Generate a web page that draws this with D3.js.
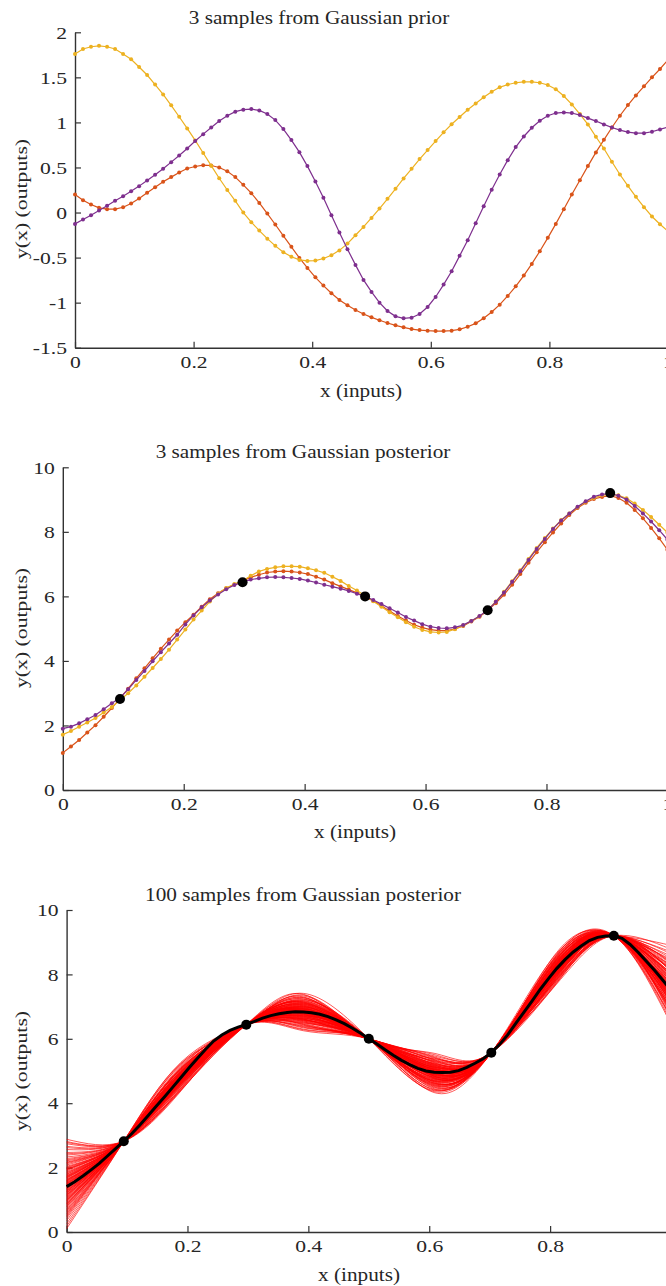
<!DOCTYPE html>
<html><head><meta charset="utf-8">
<script src="https://cdn.jsdelivr.net/npm/d3@7"></script>
<style>body{margin:0;background:#fff}svg{display:block}</style>
</head><body>
<svg id="chart" width="666" height="1286"></svg>
<script>
// ---------- data ----------
const xInputs = [0,0.0135,0.0270,0.0405,0.0541,0.0676,0.0811,0.0946,0.1081,0.1216,
0.1351,0.1486,0.1622,0.1757,0.1892,0.2027,0.2162,0.2297,0.2432,0.2568,
0.2703,0.2838,0.2973,0.3108,0.3243,0.3378,0.3514,0.3649,0.3784,0.3919,
0.4054,0.4189,0.4324,0.4459,0.4595,0.4730,0.4865,0.5,0.5135,0.5270,
0.5405,0.5541,0.5676,0.5811,0.5946,0.6081,0.6216,0.6351,0.6486,0.6622,
0.6757,0.6892,0.7027,0.7162,0.7297,0.7432,0.7568,0.7703,0.7838,0.7973,
0.8108,0.8243,0.8378,0.8514,0.8649,0.8784,0.8919,0.9054,0.9189,0.9324,
0.9459,0.9595,0.9730,0.9865,1];

const priorRed = [0.20,0.137,0.089,0.052,0.037,0.037,0.059,0.10,0.156,0.219,
0.281,0.341,0.393,0.444,0.489,0.511,0.526,0.522,0.50,0.459,
0.393,0.307,0.215,0.107,-0.011,-0.133,-0.259,-0.381,-0.504,-0.615,
-0.719,-0.811,-0.896,-0.97,-1.03,-1.081,-1.126,-1.163,-1.196,-1.226,
-1.252,-1.274,-1.293,-1.304,-1.311,-1.315,-1.315,-1.311,-1.296,-1.267,
-1.23,-1.174,-1.104,-1.022,-0.926,-0.819,-0.70,-0.57,-0.43,-0.281,
-0.126,0.037,0.20,0.359,0.515,0.667,0.807,0.944,1.074,1.193,
1.30,1.40,1.50,1.593,1.693];
const priorYellow = [1.76,1.815,1.84,1.85,1.84,1.815,1.76,1.70,1.615,1.526,
1.42,1.31,1.19,1.063,0.933,0.80,0.66,0.52,0.38,0.25,
0.13,0.0,-0.107,-0.20,-0.29,-0.37,-0.44,-0.49,-0.526,-0.537,
-0.533,-0.51,-0.474,-0.42,-0.345,-0.252,-0.16,-0.06,0.044,0.152,
0.263,0.378,0.485,0.593,0.693,0.793,0.89,0.98,1.06,1.14,
1.21,1.28,1.34,1.39,1.42,1.44,1.45,1.45,1.44,1.415,
1.367,1.293,1.20,1.093,0.978,0.841,0.711,0.563,0.422,0.296,
0.174,0.059,-0.044,-0.13,-0.207];
const priorPurple = [-0.126,-0.078,-0.03,0.022,0.074,0.13,0.181,0.237,0.293,0.356,
0.419,0.485,0.559,0.633,0.711,0.793,0.87,0.944,1.015,1.074,
1.119,1.141,1.148,1.133,1.093,1.026,0.926,0.804,0.67,0.515,
0.344,0.163,-0.03,-0.222,-0.407,-0.581,-0.748,-0.881,-1.0,-1.093,
-1.152,-1.174,-1.167,-1.126,-1.048,-0.937,-0.80,-0.652,-0.481,-0.307,
-0.119,0.07,0.252,0.422,0.581,0.726,0.844,0.941,1.019,1.074,
1.104,1.111,1.104,1.081,1.048,1.015,0.978,0.944,0.915,0.893,
0.881,0.881,0.896,0.922,0.948];

const postRed = [1.15,1.35,1.55,1.78,2.01,2.27,2.54,2.84,3.14,3.46,
3.77,4.08,4.38,4.66,4.94,5.20,5.43,5.68,5.91,6.10,
6.25,6.37,6.48,6.59,6.67,6.74,6.77,6.78,6.77,6.74,
6.69,6.61,6.52,6.41,6.31,6.21,6.11,5.99,5.86,5.71,
5.55,5.39,5.25,5.12,5.03,4.97,4.94,4.94,4.99,5.08,
5.22,5.37,5.56,5.79,6.05,6.36,6.69,7.04,7.37,7.68,
7.98,8.26,8.52,8.74,8.90,9.02,9.08,9.12,9.05,8.90,
8.68,8.42,8.12,7.80,7.45];
const postYellow = [1.715,1.83,1.96,2.09,2.23,2.40,2.57,2.79,3.0,3.24,
3.51,3.78,4.06,4.35,4.66,4.97,5.28,5.56,5.84,6.08,
6.26,6.38,6.48,6.64,6.77,6.85,6.90,6.93,6.93,6.92,
6.87,6.81,6.73,6.61,6.48,6.32,6.18,6.02,5.85,5.68,
5.51,5.35,5.20,5.06,4.96,4.90,4.88,4.90,4.98,5.10,
5.24,5.38,5.58,5.84,6.14,6.47,6.81,7.16,7.50,7.81,
8.10,8.37,8.57,8.76,8.93,9.05,9.13,9.17,9.13,9.04,
8.88,8.68,8.46,8.22,7.98];
const postPurple = [1.90,1.963,2.066,2.19,2.324,2.50,2.686,2.86,3.12,3.41,
3.69,3.99,4.27,4.54,4.81,5.13,5.41,5.66,5.87,6.06,
6.22,6.35,6.44,6.52,6.56,6.59,6.60,6.59,6.57,6.54,
6.49,6.43,6.36,6.30,6.24,6.17,6.08,6.00,5.89,5.76,
5.63,5.50,5.36,5.25,5.14,5.06,5.02,5.01,5.04,5.11,
5.24,5.39,5.57,5.83,6.12,6.45,6.78,7.13,7.47,7.78,
8.09,8.35,8.57,8.78,8.95,9.09,9.16,9.19,9.12,9.00,
8.80,8.57,8.32,8.05,7.76];

const postMean = [1.41,1.56,1.74,1.93,2.13,2.36,2.59,2.82,3.06,3.33,
3.62,3.91,4.20,4.50,4.80,5.10,5.39,5.67,5.93,6.12,
6.26,6.36,6.45,6.54,6.64,6.72,6.78,6.82,6.84,6.83,
6.81,6.76,6.69,6.59,6.47,6.33,6.17,6.00,5.84,5.66,
5.49,5.33,5.20,5.08,5.00,4.96,4.95,4.96,5.01,5.11,
5.24,5.38,5.57,5.82,6.12,6.48,6.83,7.18,7.54,7.87,
8.18,8.45,8.69,8.88,9.05,9.15,9.19,9.20,9.12,8.93,
8.68,8.40,8.12,7.82,7.50];

const obsX = [0.0946,0.2973,0.5,0.7027,0.9054];
const obsY = [2.82,6.44,6.00,5.57,9.20];

// 100 posterior samples, read at knots: x=0, mid of each gap between observations, x=1
const knotX = [0,0.0946,0.1892,0.2973,0.3919,0.5,0.6081,0.7027,0.8108,0.9054,1];
const sampleAtX0 = [1.62,0.85,2.21,1.38,0.47,1.95,1.12,2.66,1.49,0.98,
1.83,1.27,0.62,2.04,1.55,1.03,2.47,1.31,0.77,1.70,
1.19,2.88,1.44,0.91,1.76,2.12,1.08,0.35,1.58,1.96,
1.25,0.69,1.88,1.41,2.33,1.15,0.82,1.67,2.74,1.34,
0.55,1.52,2.01,1.22,0.94,1.79,1.46,2.28,0.10,1.61,
1.36,2.17,0.88,1.73,1.05,1.91,0.42,1.29,2.56,1.48,
0.73,1.64,1.17,2.39,1.40,0.99,1.85,0.58,1.53,2.08,
1.21,2.81,0.79,1.43,1.68,0.26,1.99,1.10,1.57,2.24,
0.96,1.33,2.62,1.74,0.66,1.50,1.14,2.43,0.87,1.80,
1.26,0.51,1.93,1.60,2.15,1.01,1.37,0.18,1.71,2.78];
const sampleAtGap1 = [4.74,4.93,4.62,4.83,5.05,4.69,4.88,4.45,4.79,4.97,
4.66,4.90,5.12,4.70,4.76,4.86,4.51,4.95,5.01,4.72,
4.84,4.38,4.87,4.99,4.64,4.67,4.91,5.22,4.73,4.59,
4.92,5.08,4.75,4.80,4.57,4.85,4.96,4.70,4.41,4.82,
5.10,4.78,4.63,4.89,4.94,4.68,4.81,4.60,5.27,4.77,
4.86,4.55,5.03,4.71,4.98,4.65,5.15,4.84,4.48,4.90,
5.00,4.76,4.93,4.53,4.78,4.87,4.72,5.07,4.82,4.61,
4.81,4.43,4.97,4.85,4.69,5.19,4.66,4.90,4.75,4.58,
4.95,4.83,4.47,4.73,5.06,4.79,4.88,4.54,5.02,4.68,
4.87,5.09,4.63,4.76,4.60,4.96,4.80,5.24,4.71,4.40];
const sampleAtGap2 = [6.95,6.71,7.12,6.58,6.88,7.30,6.64,6.79,7.02,6.49,
6.83,7.18,6.55,6.92,6.36,7.07,6.76,6.99,6.61,7.24,
6.87,6.44,7.09,6.73,6.97,6.30,7.15,6.81,6.68,7.38,
6.59,6.90,7.04,6.52,6.85,7.21,6.40,6.77,7.11,6.66,
7.00,6.62,6.94,7.27,6.70,6.86,6.25,7.05,6.80,6.57,
6.91,7.14,6.47,6.74,7.33,6.84,6.63,6.98,6.34,7.08,
6.72,6.89,7.19,6.56,6.93,6.78,7.41,6.67,7.01,6.45,
7.16,6.82,6.60,6.96,6.38,7.06,6.75,6.87,7.23,6.53,
6.69,7.10,6.86,6.42,6.99,6.79,7.28,6.65,6.92,6.28,
7.03,6.76,6.50,7.13,6.83,6.61,6.94,7.36,6.71,6.88];
const sampleAtGap3 = [4.88,5.21,4.63,5.04,4.77,5.38,4.95,4.52,5.12,4.84,
5.29,4.70,5.00,4.41,5.16,4.91,5.47,4.80,5.07,4.60,
4.97,5.33,4.74,5.10,4.48,5.02,4.87,5.24,4.66,5.55,
4.93,4.57,5.18,4.82,5.06,4.36,5.13,4.99,4.72,5.26,
4.85,5.42,4.68,4.96,5.09,4.54,5.20,4.78,5.01,4.45,
5.14,4.89,5.35,4.62,4.98,5.05,4.75,5.51,4.83,4.94,
4.58,5.17,4.92,5.30,4.69,5.03,4.39,5.11,4.86,5.22,
4.76,5.00,5.44,4.64,5.08,4.90,4.50,5.19,4.81,5.36,
5.04,4.71,4.97,5.27,4.43,5.15,4.89,4.61,5.32,4.95,
4.67,5.23,4.84,5.06,4.55,5.40,4.79,5.12,4.33,4.99];
const sampleAtGap4 = [8.25,7.98,8.41,8.10,8.55,7.86,8.20,8.33,8.02,8.47,
8.14,7.79,8.29,8.06,8.38,8.18,7.93,8.50,8.12,8.23,
7.90,8.36,8.08,8.62,8.16,7.74,8.27,8.04,8.44,8.19,
8.31,8.00,8.52,7.84,8.22,8.11,8.39,7.96,8.26,8.68,
8.09,8.34,7.81,8.21,8.45,8.03,8.17,8.58,7.92,8.28,
8.13,7.70,8.35,8.19,8.01,8.48,8.07,8.24,7.88,8.40,
8.30,8.05,8.57,7.95,8.18,8.37,7.83,8.15,8.43,8.10,
7.99,8.32,8.20,8.65,8.06,7.89,8.26,8.46,8.12,7.77,
8.23,8.53,8.02,8.29,7.94,8.16,8.42,8.08,7.73,8.35,
8.19,7.97,8.49,8.11,8.27,7.85,8.60,8.14,8.33,8.04];
const sampleAtX1 = [7.62,7.18,8.05,7.41,6.88,7.95,7.33,8.42,7.55,6.97,
7.78,7.26,8.21,6.65,7.49,8.64,7.10,7.70,7.38,8.12,
6.80,7.59,7.93,7.22,8.33,7.45,6.52,7.84,7.67,8.02,
7.30,8.78,7.14,7.52,6.92,7.88,7.36,8.26,7.04,7.73,
8.16,7.43,6.72,7.98,7.57,7.20,8.50,7.64,6.99,7.81,
7.48,8.09,7.28,6.60,7.90,7.39,8.37,7.16,7.69,8.90,
7.01,7.54,8.18,7.34,6.85,7.75,8.00,7.24,8.57,7.46,
7.86,6.45,7.61,8.29,7.12,7.50,7.97,6.94,7.71,8.10,
7.32,8.46,7.07,7.66,6.77,8.24,7.40,7.83,7.19,8.70,
7.56,6.90,8.03,7.47,7.27,8.35,6.68,7.79,7.13,8.14];

const xTickValues = [0,0.2,0.4,0.6,0.8,1];
const xTickLabels = ["0","0.2","0.4","0.6","0.8","1"];
const priorYTicks = [-1.5,-1,-0.5,0,0.5,1,1.5,2];
const priorYTickLabels = ["-1.5","-1","-0.5","0","0.5","1","1.5","2"];
const postYTicks = [0,2,4,6,8,10];
const postYTickLabels = ["0","2","4","6","8","10"];

const titles = ["3 samples from Gaussian prior","3 samples from Gaussian posterior","100 samples from Gaussian posterior"];
const xLabel = "x (inputs)";
const yLabel = "y(x) (outputs)";

// ---------- style ----------
const C_RED = "#D95319", C_YEL = "#EDB120", C_PUR = "#7E2F8E";
const AX = "#333333", TXT = "#262626";
const FONT = "'Liberation Serif','Times New Roman',serif";

const svg = d3.select("#chart");

function stretchText(g, str, x, y, size, sx, anchor, rot) {
  return g.append("text")
    .attr("transform", `translate(${x},${y})` + (rot ? ` rotate(${rot})` : "") + ` scale(${sx},1)`)
    .attr("text-anchor", anchor)
    .attr("font-family", FONT)
    .attr("font-size", size)
    .attr("fill", TXT)
    .text(str);
}

function panel(o) {
  const g = svg.append("g");
  const x = d3.scaleLinear().domain([0, 1]).range([o.x0, o.x1]);
  const y = d3.scaleLinear().domain(o.yDomain).range([o.yBot, o.yTop]);
  const tsx = 1.27;
  const ax = g.append("g").attr("transform", `translate(0,${o.yBot})`)
    .call(d3.axisBottom(x).tickValues(xTickValues).tickSizeInner(-6).tickSizeOuter(0)
      .tickPadding(8).tickFormat((d, i) => xTickLabels[i]));
  const ay = g.append("g").attr("transform", `translate(${o.x0},0)`)
    .call(d3.axisLeft(y).tickValues(o.yTicks).tickSizeInner(-6).tickSizeOuter(0)
      .tickPadding(8).tickFormat((d, i) => o.yTickLabels[i]));
  [ax, ay].forEach(a => {
    a.select(".domain").attr("stroke", AX).attr("stroke-width", 1.4);
    a.selectAll(".tick line").attr("stroke", AX).attr("stroke-width", 1.2);
    a.selectAll(".tick text").attr("font-family", FONT).attr("font-size", 17).attr("fill", TXT);
  });
  ax.selectAll(".tick text").attr("dy", null).attr("y", 20).attr("transform", `scale(${tsx},1)`);
  ay.selectAll(".tick text").attr("x", -8 / tsx).attr("dy", "0.34em").attr("transform", `scale(${tsx},1)`);

  stretchText(g, o.title, o.titleX, o.titleY, 18, 1.18, "middle");
  stretchText(g, xLabel, o.xlX, o.xlY, 18, 1.18, "middle");
  stretchText(g, yLabel, o.ylX, o.ylY, 17, 1.28, "middle", -90);
  return {g, x, y};
}

// ---------- panel 1 ----------
{
  const {g, x, y} = panel({x0: 75, x1: 668, yTop: 32.3, yBot: 347.7, yDomain: [-1.5, 2],
    yTicks: priorYTicks, yTickLabels: priorYTickLabels,
    title: titles[0], titleX: 319, titleY: 24, xlX: 361, xlY: 397, ylX: 27, ylY: 199});
  const line = d3.line().x((d, i) => x(xInputs[i])).y(d => y(d));
  [[priorRed, C_RED], [priorYellow, C_YEL], [priorPurple, C_PUR]].forEach(([s, c]) => {
    g.append("path").attr("d", line(s)).attr("fill", "none").attr("stroke", c).attr("stroke-width", 1.2);
    g.selectAll(null).data(s).enter().append("circle")
      .attr("cx", (d, i) => x(xInputs[i])).attr("cy", d => y(d)).attr("r", 2).attr("fill", c);
  });
}

// ---------- panel 2 ----------
{
  const {g, x, y} = panel({x0: 62.8, x1: 667.4, yTop: 467.3, yBot: 790, yDomain: [0, 10],
    yTicks: postYTicks, yTickLabels: postYTickLabels,
    title: titles[1], titleX: 303, titleY: 458, xlX: 355, xlY: 838, ylX: 27, ylY: 628});
  const line = d3.line().x((d, i) => x(xInputs[i])).y(d => y(d));
  [[postRed, C_RED], [postYellow, C_YEL], [postPurple, C_PUR]].forEach(([s, c]) => {
    g.append("path").attr("d", line(s)).attr("fill", "none").attr("stroke", c).attr("stroke-width", 1.2);
    g.selectAll(null).data(s).enter().append("circle")
      .attr("cx", (d, i) => x(xInputs[i])).attr("cy", d => y(d)).attr("r", 2).attr("fill", c);
  });
  g.selectAll(null).data(obsY).enter().append("circle")
    .attr("cx", (d, i) => x(obsX[i])).attr("cy", d => y(d)).attr("r", 5).attr("fill", "#000");
}

// ---------- panel 3 ----------
{
  const {g, x, y} = panel({x0: 66.6, x1: 671, yTop: 910, yBot: 1232, yDomain: [0, 10],
    yTicks: postYTicks, yTickLabels: postYTickLabels,
    title: titles[2], titleX: 303, titleY: 901, xlX: 359, xlY: 1281, ylX: 27, ylY: 1071});
  const samples = sampleAtX0.map((v, k) => [v, obsY[0], sampleAtGap1[k], obsY[1], sampleAtGap2[k],
    obsY[2], sampleAtGap3[k], obsY[3], sampleAtGap4[k], obsY[4], sampleAtX1[k]]);
  const sline = d3.line().x((d, i) => x(knotX[i])).y(d => y(d)).curve(d3.curveNatural);
  g.append("g").selectAll("path").data(samples).enter().append("path")
    .attr("d", sline).attr("fill", "none").attr("stroke", "#FF0000").attr("stroke-width", 0.65);
  const mline = d3.line().x((d, i) => x(xInputs[i])).y(d => y(d));
  g.append("path").attr("d", mline(postMean)).attr("fill", "none").attr("stroke", "#000").attr("stroke-width", 3);
  g.selectAll(null).data(obsY).enter().append("circle")
    .attr("cx", (d, i) => x(obsX[i])).attr("cy", d => y(d)).attr("r", 5).attr("fill", "#000");
}
</script>
</body></html>
